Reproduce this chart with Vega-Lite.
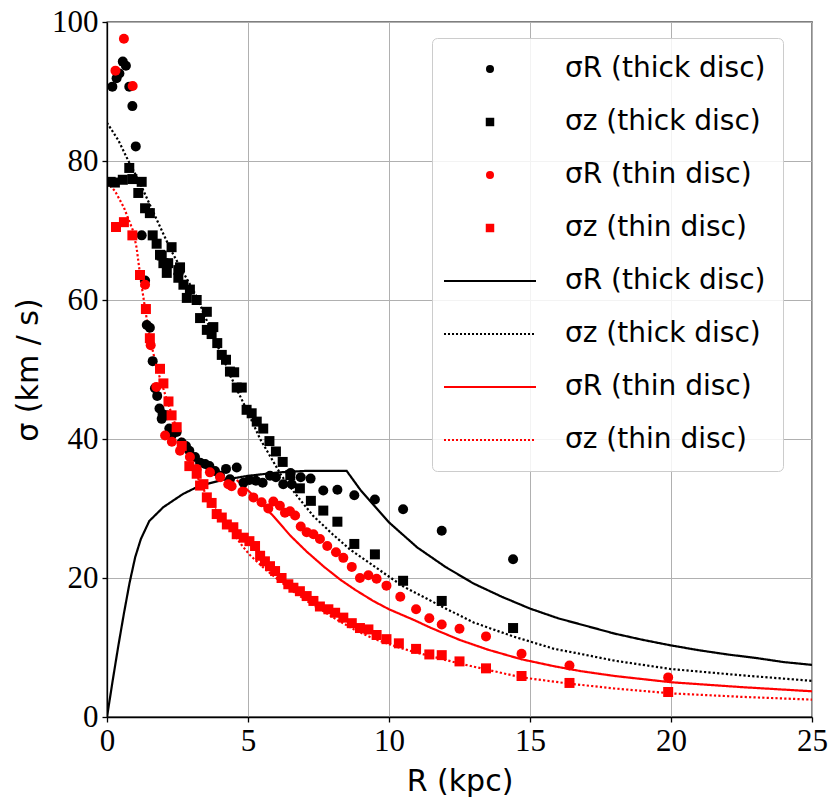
{
  "$schema": "https://vega.github.io/schema/vega-lite/v6.json",
  "autosize": {"type": "none"},
  "padding": {"left": 107, "top": 22, "right": 18, "bottom": 92},
  "width": 705,
  "height": 695,
  "background": "white",
  "config": {
    "view": {"stroke": "#000", "strokeWidth": 1.3},
    "axis": {
      "grid": true, "gridColor": "#b0b0b0", "gridWidth": 1,
      "domainColor": "#000", "domainWidth": 1.3,
      "tickColor": "#000", "tickSize": 5, "tickWidth": 1.3,
      "labelFont": "Liberation Serif", "labelFontSize": 31, "labelColor": "#000",
      "titleFont": "DejaVu Sans", "titleFontSize": 30, "titleFontWeight": "normal", "titleColor": "#000"
    }
  },
  "datasets": {
    "lines": [
      {"R": 0, "s": 0, "kind": "e"}, {"R": 0.2, "s": 5.2, "kind": "e"}, {"R": 0.4, "s": 10.2, "kind": "e"},
      {"R": 0.6, "s": 14.9, "kind": "e"}, {"R": 0.8, "s": 19.3, "kind": "e"}, {"R": 1.0, "s": 23.0, "kind": "e"},
      {"R": 1.2, "s": 25.6, "kind": "e"}, {"R": 1.5, "s": 28.2, "kind": "e"}, {"R": 2.0, "s": 30.2, "kind": "e"},
      {"R": 2.7, "s": 32.1, "kind": "e"}, {"R": 3.3, "s": 33.3, "kind": "e"}, {"R": 4.1, "s": 34.1, "kind": "e"},
      {"R": 5.0, "s": 34.7, "kind": "e"}, {"R": 6.1, "s": 35.2, "kind": "e"}, {"R": 7.0, "s": 35.4, "kind": "e"},
      {"R": 8.5, "s": 35.4, "kind": "e"}, {"R": 9, "s": 32.6, "kind": "e"}, {"R": 10, "s": 28.0, "kind": "e"},
      {"R": 11, "s": 24.4, "kind": "e"}, {"R": 12, "s": 21.6, "kind": "e"}, {"R": 13, "s": 19.2, "kind": "e"},
      {"R": 14, "s": 17.3, "kind": "e"}, {"R": 15, "s": 15.6, "kind": "e"}, {"R": 16, "s": 14.2, "kind": "e"},
      {"R": 17, "s": 13.1, "kind": "e"}, {"R": 18, "s": 12.0, "kind": "e"}, {"R": 19, "s": 11.1, "kind": "e"},
      {"R": 20, "s": 10.3, "kind": "e"}, {"R": 21, "s": 9.6, "kind": "e"}, {"R": 22, "s": 9.0, "kind": "e"},
      {"R": 23, "s": 8.5, "kind": "e"}, {"R": 24, "s": 7.9, "kind": "e"}, {"R": 25, "s": 7.5, "kind": "e"},

      {"R": 0, "s": 85.5, "kind": "f"}, {"R": 0.4, "s": 83.0, "kind": "f"}, {"R": 0.76, "s": 80.0, "kind": "f"},
      {"R": 1.15, "s": 77.0, "kind": "f"}, {"R": 1.52, "s": 73.7, "kind": "f"}, {"R": 2.0, "s": 69.5, "kind": "f"},
      {"R": 2.29, "s": 67.0, "kind": "f"}, {"R": 2.59, "s": 64.8, "kind": "f"}, {"R": 3.18, "s": 60.5, "kind": "f"},
      {"R": 3.8, "s": 54.5, "kind": "f"}, {"R": 4.48, "s": 48.2, "kind": "f"}, {"R": 5.0, "s": 43.8, "kind": "f"},
      {"R": 5.43, "s": 40.0, "kind": "f"}, {"R": 6.19, "s": 34.7, "kind": "f"}, {"R": 6.8, "s": 31.5, "kind": "f"},
      {"R": 7.32, "s": 28.9, "kind": "f"}, {"R": 8.0, "s": 26.3, "kind": "f"}, {"R": 8.62, "s": 24.1, "kind": "f"},
      {"R": 9.68, "s": 21.1, "kind": "f"}, {"R": 10.5, "s": 18.8, "kind": "f"}, {"R": 11.87, "s": 15.9, "kind": "f"},
      {"R": 13.0, "s": 13.6, "kind": "f"}, {"R": 14.4, "s": 11.6, "kind": "f"}, {"R": 15.86, "s": 9.8, "kind": "f"},
      {"R": 16.77, "s": 9.1, "kind": "f"}, {"R": 18, "s": 8.1, "kind": "f"}, {"R": 20, "s": 6.9, "kind": "f"},
      {"R": 22.5, "s": 6.0, "kind": "f"}, {"R": 25, "s": 5.2, "kind": "f"},

      {"R": 4.6, "s": 34.1, "kind": "g"}, {"R": 4.95, "s": 32.8, "kind": "g"}, {"R": 5.5, "s": 30.6, "kind": "g"},
      {"R": 5.9, "s": 28.9, "kind": "g"}, {"R": 6.5, "s": 26.1, "kind": "g"}, {"R": 7.08, "s": 23.8, "kind": "g"},
      {"R": 7.7, "s": 21.6, "kind": "g"}, {"R": 8.26, "s": 19.8, "kind": "g"}, {"R": 8.8, "s": 18.3, "kind": "g"},
      {"R": 9.44, "s": 16.7, "kind": "g"}, {"R": 10.0, "s": 15.5, "kind": "g"}, {"R": 10.86, "s": 14.0, "kind": "g"},
      {"R": 11.5, "s": 12.8, "kind": "g"}, {"R": 12.5, "s": 11.1, "kind": "g"}, {"R": 13.5, "s": 9.7, "kind": "g"},
      {"R": 14.7, "s": 8.3, "kind": "g"}, {"R": 15.86, "s": 7.3, "kind": "g"}, {"R": 16.8, "s": 6.6, "kind": "g"},
      {"R": 18, "s": 5.9, "kind": "g"}, {"R": 20, "s": 5.0, "kind": "g"}, {"R": 22.5, "s": 4.3, "kind": "g"},
      {"R": 25, "s": 3.7, "kind": "g"},

      {"R": 0, "s": 76.9, "kind": "h"}, {"R": 0.28, "s": 75.7, "kind": "h"}, {"R": 0.6, "s": 73.3, "kind": "h"},
      {"R": 0.93, "s": 69.9, "kind": "h"}, {"R": 1.05, "s": 67.5, "kind": "h"}, {"R": 1.2, "s": 62.8, "kind": "h"},
      {"R": 1.38, "s": 58.0, "kind": "h"}, {"R": 1.52, "s": 54.5, "kind": "h"}, {"R": 1.76, "s": 50.3, "kind": "h"},
      {"R": 2.11, "s": 45.8, "kind": "h"}, {"R": 2.47, "s": 41.5, "kind": "h"}, {"R": 3.06, "s": 35.7, "kind": "h"},
      {"R": 3.65, "s": 30.9, "kind": "h"}, {"R": 4.24, "s": 27.8, "kind": "h"}, {"R": 4.8, "s": 24.6, "kind": "h"},
      {"R": 5.07, "s": 23.3, "kind": "h"}, {"R": 5.6, "s": 21.3, "kind": "h"}, {"R": 6.49, "s": 18.4, "kind": "h"},
      {"R": 7.2, "s": 16.4, "kind": "h"}, {"R": 8.15, "s": 14.0, "kind": "h"}, {"R": 8.85, "s": 12.4, "kind": "h"},
      {"R": 9.44, "s": 11.3, "kind": "h"}, {"R": 10.27, "s": 10.1, "kind": "h"}, {"R": 10.85, "s": 9.4, "kind": "h"},
      {"R": 12.5, "s": 7.7, "kind": "h"}, {"R": 14.7, "s": 5.7, "kind": "h"}, {"R": 16.4, "s": 4.8, "kind": "h"},
      {"R": 18, "s": 4.1, "kind": "h"}, {"R": 20, "s": 3.4, "kind": "h"}, {"R": 22.5, "s": 2.9, "kind": "h"},
      {"R": 25, "s": 2.5, "kind": "h"}
    ],
    "pts": [
      {"R": 0.19, "s": 90.7, "kind": "a"}, {"R": 0.34, "s": 91.9, "kind": "a"}, {"R": 0.44, "s": 92.6, "kind": "a"},
      {"R": 0.56, "s": 94.3, "kind": "a"}, {"R": 0.67, "s": 93.7, "kind": "a"}, {"R": 0.79, "s": 90.7, "kind": "a"},
      {"R": 0.9, "s": 87.9, "kind": "a"}, {"R": 1.02, "s": 82.1, "kind": "a"}, {"R": 1.23, "s": 69.3, "kind": "a"},
      {"R": 1.35, "s": 62.8, "kind": "a"}, {"R": 1.41, "s": 56.4, "kind": "a"}, {"R": 1.52, "s": 56.0, "kind": "a"},
      {"R": 1.62, "s": 51.2, "kind": "a"}, {"R": 1.7, "s": 47.3, "kind": "a"}, {"R": 1.78, "s": 46.2, "kind": "a"},
      {"R": 1.86, "s": 44.4, "kind": "a"}, {"R": 1.94, "s": 42.9, "kind": "a"}, {"R": 1.97, "s": 43.6, "kind": "a"},
      {"R": 2.11, "s": 43.4, "kind": "a"}, {"R": 2.21, "s": 41.5, "kind": "a"}, {"R": 2.29, "s": 40.5, "kind": "a"},
      {"R": 2.47, "s": 41.0, "kind": "a"}, {"R": 2.65, "s": 39.5, "kind": "a"}, {"R": 2.8, "s": 39.0, "kind": "a"},
      {"R": 2.92, "s": 38.3, "kind": "a"}, {"R": 3.12, "s": 37.4, "kind": "a"}, {"R": 3.3, "s": 36.6, "kind": "a"},
      {"R": 3.48, "s": 36.4, "kind": "a"}, {"R": 3.63, "s": 36.1, "kind": "a"}, {"R": 3.83, "s": 35.4, "kind": "a"},
      {"R": 4.01, "s": 34.7, "kind": "a"}, {"R": 4.22, "s": 35.7, "kind": "a"}, {"R": 4.36, "s": 34.2, "kind": "a"},
      {"R": 4.6, "s": 35.9, "kind": "a"}, {"R": 4.84, "s": 33.7, "kind": "a"}, {"R": 5.05, "s": 34.1, "kind": "a"},
      {"R": 5.28, "s": 34.0, "kind": "a"}, {"R": 5.52, "s": 33.7, "kind": "a"}, {"R": 5.78, "s": 34.7, "kind": "a"},
      {"R": 5.99, "s": 34.5, "kind": "a"}, {"R": 6.25, "s": 33.5, "kind": "a"}, {"R": 6.51, "s": 35.1, "kind": "a"},
      {"R": 6.55, "s": 33.5, "kind": "a"}, {"R": 6.87, "s": 34.5, "kind": "a"}, {"R": 7.22, "s": 34.3, "kind": "a"},
      {"R": 7.67, "s": 32.6, "kind": "a"}, {"R": 8.17, "s": 32.7, "kind": "a"}, {"R": 8.77, "s": 31.9, "kind": "a"},
      {"R": 9.5, "s": 31.3, "kind": "a"}, {"R": 10.5, "s": 29.9, "kind": "a"}, {"R": 11.87, "s": 26.8, "kind": "a"},
      {"R": 14.4, "s": 22.7, "kind": "a"},

      {"R": 0.13, "s": 77.0, "kind": "b"}, {"R": 0.28, "s": 76.9, "kind": "b"}, {"R": 0.56, "s": 77.3, "kind": "b"},
      {"R": 0.79, "s": 79.0, "kind": "b"}, {"R": 0.9, "s": 77.4, "kind": "b"}, {"R": 1.11, "s": 75.4, "kind": "b"},
      {"R": 1.23, "s": 77.0, "kind": "b"}, {"R": 1.35, "s": 73.2, "kind": "b"}, {"R": 1.52, "s": 72.5, "kind": "b"},
      {"R": 1.62, "s": 69.3, "kind": "b"}, {"R": 1.76, "s": 68.1, "kind": "b"}, {"R": 1.88, "s": 66.5, "kind": "b"},
      {"R": 1.94, "s": 66.4, "kind": "b"}, {"R": 2.0, "s": 65.3, "kind": "b"}, {"R": 2.12, "s": 63.9, "kind": "b"},
      {"R": 2.17, "s": 65.3, "kind": "b"}, {"R": 2.29, "s": 67.6, "kind": "b"}, {"R": 2.53, "s": 64.3, "kind": "b"},
      {"R": 2.53, "s": 63.2, "kind": "b"}, {"R": 2.59, "s": 64.7, "kind": "b"}, {"R": 2.71, "s": 62.2, "kind": "b"},
      {"R": 2.83, "s": 60.3, "kind": "b"}, {"R": 2.94, "s": 61.5, "kind": "b"}, {"R": 3.18, "s": 60.0, "kind": "b"},
      {"R": 3.3, "s": 57.4, "kind": "b"}, {"R": 3.54, "s": 58.3, "kind": "b"}, {"R": 3.54, "s": 55.7, "kind": "b"},
      {"R": 3.71, "s": 55.1, "kind": "b"}, {"R": 3.77, "s": 56.1, "kind": "b"}, {"R": 3.91, "s": 53.8, "kind": "b"},
      {"R": 4.07, "s": 52.1, "kind": "b"}, {"R": 4.22, "s": 51.4, "kind": "b"}, {"R": 4.36, "s": 49.7, "kind": "b"},
      {"R": 4.51, "s": 49.6, "kind": "b"}, {"R": 4.6, "s": 47.4, "kind": "b"}, {"R": 4.78, "s": 47.4, "kind": "b"},
      {"R": 4.95, "s": 44.2, "kind": "b"}, {"R": 5.13, "s": 43.7, "kind": "b"}, {"R": 5.31, "s": 42.5, "kind": "b"},
      {"R": 5.54, "s": 41.5, "kind": "b"}, {"R": 5.76, "s": 39.7, "kind": "b"}, {"R": 5.99, "s": 38.2, "kind": "b"},
      {"R": 6.23, "s": 36.7, "kind": "b"}, {"R": 6.5, "s": 34.8, "kind": "b"}, {"R": 6.84, "s": 32.9, "kind": "b"},
      {"R": 7.23, "s": 31.1, "kind": "b"}, {"R": 7.67, "s": 29.7, "kind": "b"}, {"R": 8.17, "s": 28.1, "kind": "b"},
      {"R": 8.77, "s": 24.9, "kind": "b"}, {"R": 9.5, "s": 23.4, "kind": "b"}, {"R": 10.5, "s": 19.6, "kind": "b"},
      {"R": 11.87, "s": 16.7, "kind": "b"}, {"R": 14.4, "s": 12.8, "kind": "b"},

      {"R": 0.3, "s": 93.0, "kind": "c"}, {"R": 0.6, "s": 97.6, "kind": "c"}, {"R": 0.91, "s": 90.8, "kind": "c"},
      {"R": 1.35, "s": 62.2, "kind": "c"}, {"R": 1.55, "s": 53.5, "kind": "c"}, {"R": 1.75, "s": 47.5, "kind": "c"},
      {"R": 2.06, "s": 40.5, "kind": "c"}, {"R": 2.3, "s": 39.6, "kind": "c"}, {"R": 2.59, "s": 38.3, "kind": "c"},
      {"R": 2.94, "s": 37.4, "kind": "c"}, {"R": 3.18, "s": 35.7, "kind": "c"}, {"R": 3.65, "s": 35.2, "kind": "c"},
      {"R": 4.01, "s": 34.5, "kind": "c"}, {"R": 4.3, "s": 33.5, "kind": "c"}, {"R": 4.42, "s": 33.2, "kind": "c"},
      {"R": 4.8, "s": 32.4, "kind": "c"}, {"R": 5.19, "s": 31.6, "kind": "c"}, {"R": 5.48, "s": 30.9, "kind": "c"},
      {"R": 5.72, "s": 30.0, "kind": "c"}, {"R": 5.9, "s": 31.0, "kind": "c"}, {"R": 6.13, "s": 30.4, "kind": "c"},
      {"R": 6.31, "s": 29.4, "kind": "c"}, {"R": 6.49, "s": 29.6, "kind": "c"}, {"R": 6.67, "s": 29.0, "kind": "c"},
      {"R": 6.87, "s": 27.4, "kind": "c"}, {"R": 7.08, "s": 26.6, "kind": "c"}, {"R": 7.32, "s": 26.3, "kind": "c"},
      {"R": 7.55, "s": 25.6, "kind": "c"}, {"R": 7.81, "s": 24.6, "kind": "c"}, {"R": 8.12, "s": 23.7, "kind": "c"},
      {"R": 8.38, "s": 22.9, "kind": "c"}, {"R": 8.68, "s": 21.6, "kind": "c"}, {"R": 8.97, "s": 20.0, "kind": "c"},
      {"R": 9.27, "s": 20.4, "kind": "c"}, {"R": 9.56, "s": 19.9, "kind": "c"}, {"R": 9.91, "s": 18.9, "kind": "c"},
      {"R": 10.4, "s": 17.3, "kind": "c"}, {"R": 10.96, "s": 15.5, "kind": "c"}, {"R": 11.43, "s": 14.2, "kind": "c"},
      {"R": 11.87, "s": 13.3, "kind": "c"}, {"R": 12.5, "s": 12.7, "kind": "c"}, {"R": 13.44, "s": 11.6, "kind": "c"},
      {"R": 14.7, "s": 9.1, "kind": "c"}, {"R": 16.4, "s": 7.4, "kind": "c"}, {"R": 19.9, "s": 5.7, "kind": "c"},

      {"R": 0.32, "s": 70.5, "kind": "d"}, {"R": 0.6, "s": 71.2, "kind": "d"}, {"R": 0.9, "s": 69.3, "kind": "d"},
      {"R": 1.17, "s": 63.6, "kind": "d"}, {"R": 1.38, "s": 58.7, "kind": "d"}, {"R": 1.52, "s": 54.5, "kind": "d"},
      {"R": 1.88, "s": 50.1, "kind": "d"}, {"R": 2.0, "s": 48.0, "kind": "d"}, {"R": 2.18, "s": 45.4, "kind": "d"},
      {"R": 2.29, "s": 43.4, "kind": "d"}, {"R": 2.47, "s": 41.7, "kind": "d"}, {"R": 2.65, "s": 39.0, "kind": "d"},
      {"R": 2.92, "s": 36.1, "kind": "d"}, {"R": 3.18, "s": 35.0, "kind": "d"}, {"R": 3.3, "s": 33.3, "kind": "d"},
      {"R": 3.42, "s": 33.5, "kind": "d"}, {"R": 3.54, "s": 31.6, "kind": "d"}, {"R": 3.71, "s": 30.8, "kind": "d"},
      {"R": 3.89, "s": 29.2, "kind": "d"}, {"R": 4.07, "s": 28.7, "kind": "d"}, {"R": 4.25, "s": 27.7, "kind": "d"},
      {"R": 4.48, "s": 27.3, "kind": "d"}, {"R": 4.6, "s": 26.3, "kind": "d"}, {"R": 4.85, "s": 25.8, "kind": "d"},
      {"R": 5.05, "s": 25.3, "kind": "d"}, {"R": 5.25, "s": 24.6, "kind": "d"}, {"R": 5.43, "s": 23.2, "kind": "d"},
      {"R": 5.6, "s": 22.4, "kind": "d"}, {"R": 5.78, "s": 21.7, "kind": "d"}, {"R": 5.96, "s": 21.0, "kind": "d"},
      {"R": 6.19, "s": 20.0, "kind": "d"}, {"R": 6.43, "s": 19.1, "kind": "d"}, {"R": 6.61, "s": 18.6, "kind": "d"},
      {"R": 6.84, "s": 18.1, "kind": "d"}, {"R": 7.08, "s": 17.4, "kind": "d"}, {"R": 7.32, "s": 16.7, "kind": "d"},
      {"R": 7.55, "s": 15.9, "kind": "d"}, {"R": 7.85, "s": 15.5, "kind": "d"}, {"R": 8.09, "s": 15.0, "kind": "d"},
      {"R": 8.38, "s": 14.3, "kind": "d"}, {"R": 8.68, "s": 13.5, "kind": "d"}, {"R": 8.97, "s": 12.8, "kind": "d"},
      {"R": 9.27, "s": 12.6, "kind": "d"}, {"R": 9.56, "s": 11.8, "kind": "d"}, {"R": 9.91, "s": 11.2, "kind": "d"},
      {"R": 10.35, "s": 10.6, "kind": "d"}, {"R": 10.96, "s": 9.8, "kind": "d"}, {"R": 11.43, "s": 9.0, "kind": "d"},
      {"R": 11.87, "s": 8.9, "kind": "d"}, {"R": 12.5, "s": 8.0, "kind": "d"}, {"R": 13.44, "s": 7.0, "kind": "d"},
      {"R": 14.7, "s": 5.9, "kind": "d"}, {"R": 16.4, "s": 4.9, "kind": "d"}, {"R": 19.9, "s": 3.6, "kind": "d"}
    ]
  },
  "encoding": {
    "x": {"field": "R", "type": "quantitative",
      "scale": {"domain": [0, 25], "nice": false, "zero": false},
      "axis": {"values": [0, 5, 10, 15, 20, 25], "title": "R (kpc)", "titlePadding": 10, "labelPadding": 4, "labelFlush": false,
        "labelFont": "Liberation Serif, Times New Roman, serif", "labelFontSize": 31}},
    "y": {"field": "s", "type": "quantitative",
      "scale": {"domain": [0, 100], "nice": false},
      "axis": {"values": [0, 20, 40, 60, 80, 100], "title": "σ (km / s)", "titlePadding": 8, "labelPadding": 4,
        "labelFont": "Liberation Serif, Times New Roman, serif", "labelFontSize": 31}},
    "color": {"field": "kind", "type": "nominal",
      "scale": {"domain": ["a", "b", "c", "d", "e", "f", "g", "h"],
        "range": ["#000000", "#000000", "#ff0000", "#ff0000", "#000000", "#000000", "#ff0000", "#ff0000"]},
      "legend": {
        "title": null, "orient": "none", "legendX": 325, "legendY": 16,
        "labelFont": "DejaVu Sans", "labelFontSize": 28, "labelColor": "#000", "labelLimit": 400,
        "labelExpr": "indexof(['a','e'], datum.value) >= 0 ? 'σR (thick disc)' : indexof(['b','f'], datum.value) >= 0 ? 'σz (thick disc)' : indexof(['c','g'], datum.value) >= 0 ? 'σR (thin disc)' : 'σz (thin disc)'",
        "symbolType": "stroke", "symbolSize": 8464, "symbolStrokeWidth": 2,
        "symbolOffset": 27, "labelOffset": 61, "rowPadding": 25, "padding": 17,
        "cornerRadius": 5, "strokeColor": "#cccccc", "fillColor": "rgba(255,255,255,0.85)",
        "encode": {"symbols": {"update": {
          "shape": {"signal": "indexof(['a','c'], datum.value) >= 0 ? 'circle' : indexof(['b','d'], datum.value) >= 0 ? 'square' : 'stroke'"},
          "size": {"signal": "indexof(['a','c'], datum.value) >= 0 ? 64 : indexof(['b','d'], datum.value) >= 0 ? 72 : 8464"},
          "fill": {"signal": "indexof(['a','b'], datum.value) >= 0 ? '#000000' : indexof(['c','d'], datum.value) >= 0 ? '#ff0000' : 'transparent'"},
          "stroke": {"signal": "indexof(['a','b','e','f'], datum.value) >= 0 ? '#000000' : '#ff0000'"},
          "strokeWidth": {"signal": "indexof(['a','b','c','d'], datum.value) >= 0 ? 0 : 2"},
          "strokeDash": {"signal": "indexof(['f','h'], datum.value) >= 0 ? [2,2] : [1,0]"},
          "opacity": {"value": 1}
        }}}
      }}
  },
  "layer": [
    {
      "data": {"name": "lines"},
      "mark": {"type": "line", "strokeWidth": 2.2, "strokeCap": "butt", "clip": true},
      "encoding": {
        "strokeDash": {"field": "kind", "type": "nominal",
          "scale": {"domain": ["e", "f", "g", "h"], "range": [[1, 0], [2.2, 2.2], [1, 0], [2.2, 2.2]]},
          "legend": null}
      }
    },
    {
      "data": {"name": "pts"},
      "mark": {"type": "point", "filled": true, "opacity": 1, "size": 100, "clip": true},
      "encoding": {
        "shape": {"field": "kind", "type": "nominal",
          "scale": {"domain": ["a", "b", "c", "d"], "range": ["circle", "square", "circle", "square"]},
          "legend": null}
      }
    }
  ]
}
